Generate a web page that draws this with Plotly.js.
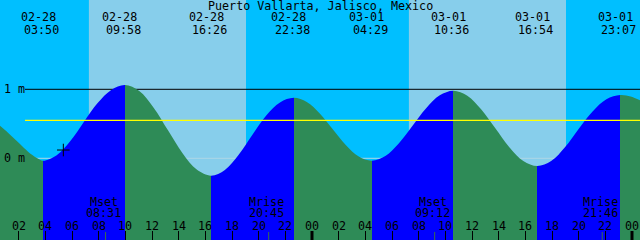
<!DOCTYPE html>
<html>
<head>
<meta charset="utf-8">
<script src="https://cdn.plot.ly/plotly-3.0.1.min.js"></script>
<style>html,body{margin:0;padding:0;background:#00BFFF;}#chart{width:640px;height:240px;}</style>
</head>
<body>
<div id="chart"></div>
<script>
// ---------------- data ----------------
const chartTitle = "Puerto Vallarta, Jalisco, Mexico";
const dayNames = ["02-28", "03-01"];

const extremeDates = ["02-28", "02-28", "02-28", "02-28", "03-01", "03-01", "03-01", "03-01"];
const extremeTimes = ["03:50", "09:58", "16:26", "22:38", "04:29", "10:36", "16:54", "23:07"];
const extremeKinds = ["low", "high", "low", "high", "low", "high", "low", "high"];

// tide curve: hours since 02-28 00:00, height in metres
const curveHours = [0.6, 1.2, 1.8, 2.4, 3.0, 3.4, 3.833,
  4.855, 5.878, 6.9, 7.922, 8.945, 9.967,
  11.045, 12.122, 13.2, 14.278, 15.355, 16.433,
  17.467, 18.5, 19.533, 20.567, 21.6, 22.633,
  23.608, 24.583, 25.558, 26.533, 27.508, 28.483,
  29.503, 30.522, 31.542, 32.561, 33.581, 34.6,
  35.65, 36.7, 37.75, 38.8, 39.85, 40.9,
  41.936, 42.972, 44.009, 45.045, 46.081, 47.117,
  47.9, 48.6];
const curveHeights = [0.47, 0.37, 0.26, 0.15, 0.05, 0.0, -0.035,
  0.045, 0.25, 0.53, 0.80, 0.99, 1.062,
  0.974, 0.734, 0.405, 0.077, -0.164, -0.252,
  -0.17, 0.05, 0.34, 0.62, 0.81, 0.878,
  0.817, 0.65, 0.42, 0.193, 0.026, -0.035,
  0.033, 0.219, 0.4725, 0.726, 0.912, 0.98,
  0.907, 0.707, 0.434, 0.161, -0.039, -0.112,
  -0.04, 0.16, 0.43, 0.68, 0.855, 0.917,
  0.895, 0.84];

const sunriseDates = ["02-28", "03-01"];
const sunriseTimes = ["07:16", "07:16"];
const sunsetDates = ["02-28", "03-01"];
const sunsetTimes = ["19:03", "19:03"];

const moonLabels = ["Mset", "Mrise", "Mset", "Mrise"];
const moonDates = ["02-28", "02-28", "03-01", "03-01"];
const moonTimes = ["08:31", "20:45", "09:12", "21:46"];

const hourTickVals = [2, 4, 6, 8, 10, 12, 14, 16, 18, 20, 22, 24, 26, 28, 30, 32, 34, 36, 38, 40, 42, 44, 46, 48];
const hourTickText = ["02", "04", "06", "08", "10", "12", "14", "16", "18", "20", "22", "00", "02", "04", "06", "08", "10", "12", "14", "16", "18", "20", "22", "00"];
const midnightHours = [24, 48];

const levelHeights = [0, 1];
const levelLabels = ["0 m", "1 m"];
const meanLevel = 0.55;

const nowHour = 5.35;
const nowHeight = 0.12;

// ---------------- style ----------------
const NIGHT = "#00BFFF", DAY = "#87CEEB", RISE = "#0000FF", FALL = "#2E8B57";
const FONT = "DejaVu Sans Mono";
const FS = 11.7;
const X0 = 0.6, X1 = 48.6;
const Y0 = -1.1841, Y1 = 2.2942;

function toHours(d, t) {
  return dayNames.indexOf(d) * 24 + parseInt(t.slice(0, 2), 10) + parseInt(t.slice(3, 5), 10) / 60;
}
const extremeHours = extremeDates.map((d, i) => toHours(d, extremeTimes[i]));
const sunriseHours = sunriseDates.map((d, i) => toHours(d, sunriseTimes[i]));
const sunsetHours = sunsetDates.map((d, i) => toHours(d, sunsetTimes[i]));
const moonHours = moonDates.map((d, i) => toHours(d, moonTimes[i]));

// gradient with hard stops: falling -> green, rising -> blue
const cs = [];
let col = extremeKinds[0] === "low" ? FALL : RISE;
cs.push([0, col]);
extremeHours.forEach((h, i) => {
  const p = (h - X0) / (X1 - X0);
  cs.push([p, col]);
  col = extremeKinds[i] === "low" ? RISE : FALL;
  cs.push([p, col]);
});
cs.push([1, col]);

const traces = [
  { x: [X0, X1], y: [Y0 - 0.1, Y0 - 0.1], mode: "lines", line: { width: 0 }, hoverinfo: "skip", showlegend: false },
  { x: curveHours, y: curveHeights, mode: "lines", line: { width: 0, shape: "spline" }, fill: "tonexty",
    fillgradient: { type: "horizontal", start: X0, stop: X1, colorscale: cs }, hoverinfo: "skip", showlegend: false },
  { x: [nowHour], y: [nowHeight], mode: "markers", marker: { symbol: "cross-thin", size: 9, line: { width: 1, color: "#000" } }, showlegend: false, hoverinfo: "skip" }
];

const shapes = [];
sunriseHours.forEach((h, i) => {
  shapes.push({ type: "rect", layer: "below", xref: "x", yref: "paper", x0: h, x1: sunsetHours[i], y0: 0, y1: 1, fillcolor: DAY, line: { width: 0 } });
});
const levelColors = ["#ADD8E6", "#000000"];
levelHeights.forEach((v, i) => {
  shapes.push({ type: "line", layer: "below", xref: "paper", yref: "y", x0: 25 / 640, x1: 1, y0: v, y1: v, line: { color: levelColors[i], width: 1 } });
});
shapes.push({ type: "line", layer: "above", xref: "paper", yref: "y", x0: 25 / 640, x1: 1, y0: meanLevel, y1: meanLevel, line: { color: "#FFFF00", width: 1.3 } });
midnightHours.forEach(h => {
  shapes.push({ type: "line", layer: "above", xref: "x", yref: "paper", x0: h, x1: h, y0: 0, y1: 9 / 240, line: { color: "#000", width: 3 } });
});
moonHours.forEach(h => {
  shapes.push({ type: "line", layer: "above", xref: "x", yref: "paper", x0: h, x1: h, y0: 0, y1: 8 / 240, line: { color: "#3C6E4A", width: 1 } });
});

const ann = [];
const f = { family: FONT, size: FS, color: "#000" };
ann.push({ text: chartTitle, xref: "paper", yref: "paper", x: 0.5, y: 1 - 6 / 240, xanchor: "center", yanchor: "middle", showarrow: false, font: f });
extremeHours.forEach((h, i) => {
  ann.push({ text: extremeDates[i], xref: "x", yref: "paper", x: h, xshift: -5, y: 1 - 17 / 240, xanchor: "center", yanchor: "middle", showarrow: false, font: f });
  ann.push({ text: extremeTimes[i], xref: "x", yref: "paper", x: h, xshift: -1.5, y: 1 - 30 / 240, xanchor: "center", yanchor: "middle", showarrow: false, font: f });
});
moonHours.forEach((h, i) => {
  ann.push({ text: moonLabels[i], xref: "x", yref: "paper", x: h, xshift: -2, y: 1 - 202 / 240, xanchor: "center", yanchor: "middle", showarrow: false, font: f });
  ann.push({ text: moonTimes[i], xref: "x", yref: "paper", x: h, xshift: -2, y: 1 - 213 / 240, xanchor: "center", yanchor: "middle", showarrow: false, font: f });
});
hourTickVals.forEach((h, i) => {
  ann.push({ text: hourTickText[i], xref: "x", yref: "paper", x: h, y: 1 - 225.5 / 240, xanchor: "center", yanchor: "middle", showarrow: false, font: f });
});
levelHeights.forEach((v, i) => {
  ann.push({ text: levelLabels[i], xref: "paper", yref: "y", x: 2 / 640, y: v, xanchor: "left", yanchor: "middle", showarrow: false, font: f });
});

const layout = {
  width: 640, height: 240,
  margin: { l: 0, r: 0, t: 0, b: 0, pad: 0 },
  paper_bgcolor: NIGHT, plot_bgcolor: NIGHT,
  showlegend: false,
  xaxis: { range: [X0, X1], showgrid: false, zeroline: false, showline: false, fixedrange: true,
    tickmode: "array", tickvals: hourTickVals, ticktext: hourTickText, ticks: "inside", ticklen: 9, tickwidth: 1, tickcolor: "#000", showticklabels: false },
  yaxis: { range: [Y0, Y1], showgrid: false, zeroline: false, showline: false, showticklabels: false, ticks: "", fixedrange: true },
  shapes: shapes,
  annotations: ann
};

Plotly.newPlot("chart", traces, layout, { staticPlot: true, displayModeBar: false });
</script>
</body>
</html>
